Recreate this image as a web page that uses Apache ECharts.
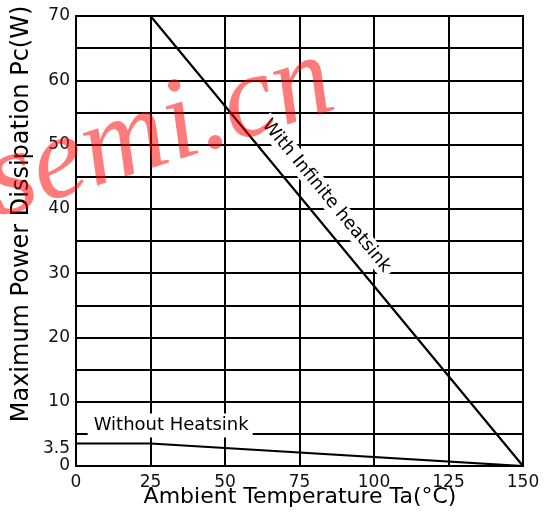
<!DOCTYPE html>
<html>
<head>
<meta charset="utf-8">
<script src="https://cdn.jsdelivr.net/npm/echarts@6/dist/echarts.min.js"></script>
<style>html,body{margin:0;padding:0;background:#fff;}#c{width:547px;height:516px;}</style>
</head>
<body>
<div id="c"></div>
<script>
var temps = [0, 25, 150];
var withHeatsink = [70, 70, 0];
var withoutHeatsink = [3.5, 3.5, 0];
var xTicks = [0, 25, 50, 75, 100, 125, 150];
var yTicks = [0, 10, 20, 30, 40, 50, 60, 70];
var extraYTick = 3.5;

var FONT = 'DejaVu Sans';
function pairs(xs, ys) { return xs.map(function (x, i) { return [x, ys[i]]; }); }

var chart = echarts.init(document.getElementById('c'));
chart.setOption({
  animation: false,
  backgroundColor: '#fff',
  grid: { left: 76, right: 24, top: 16, bottom: 50, show: true, borderColor: '#000', borderWidth: 2 },
  xAxis: {
    type: 'value', min: 0, max: 150, interval: 25,
    axisLine: { lineStyle: { color: '#000', width: 2 } },
    axisTick: { show: false },
    splitLine: { lineStyle: { color: '#000', width: 2 } },
    axisLabel: { fontFamily: FONT, fontSize: 17, color: '#111', margin: 8,
      formatter: function (v) { return xTicks.indexOf(v) >= 0 ? String(v) : ''; } }
  },
  yAxis: [{
    type: 'value', min: 0, max: 70, interval: 5,
    axisLine: { show: true, lineStyle: { color: '#000', width: 2 } },
    axisTick: { show: false },
    splitLine: { lineStyle: { color: '#000', width: 2 } },
    axisLabel: { fontFamily: FONT, fontSize: 17, color: '#111', margin: 6,
      formatter: function (v) { return yTicks.indexOf(v) >= 0 ? String(v) : ''; } }
  }, {
    type: 'value', min: 0, max: 70, interval: 3.5, position: 'left',
    axisLine: { show: false }, axisTick: { show: false }, splitLine: { show: false },
    axisLabel: { fontFamily: FONT, fontSize: 17, color: '#111', margin: 6, verticalAlign: 'top', lineHeight: 11,
      formatter: function (v) { return Math.abs(v - extraYTick) < 1e-9 ? String(extraYTick) : ''; } }
  }],
  series: [{
    type: 'line', name: 'With Infinite heatsink', data: pairs(temps, withHeatsink),
    symbol: 'none', lineStyle: { color: '#000', width: 2.2 }, z: 5,
    markPoint: {
      symbolSize: 0, silent: true,
      data: [{ coord: [84, 42] }],
      label: { show: true, position: 'inside', formatter: 'With Infinite heatsink', rotate: -50.5,
        fontFamily: FONT, fontSize: 18, color: '#000', backgroundColor: '#fff', padding: [1, 4] }
    }
  }, {
    type: 'line', name: 'Without Heatsink', data: pairs(temps, withoutHeatsink),
    symbol: 'none', lineStyle: { color: '#000', width: 2.2 }, z: 5,
    markPoint: {
      symbolSize: 0, silent: true,
      data: [{ coord: [31.6, 6.3] }],
      label: { show: true, position: 'inside', formatter: 'Without Heatsink',
        fontFamily: FONT, fontSize: 18, color: '#000', backgroundColor: '#fff', padding: [2, 4, 4, 6] }
    }
  }],
  graphic: [{
    type: 'text', x: 300, y: 497, z: 10,
    style: { text: 'Ambient Temperature Ta(°C)', font: '22px "DejaVu Sans"', fill: '#000', textAlign: 'center', textVerticalAlign: 'middle' }
  }, {
    type: 'text', x: 22, y: 214, rotation: Math.PI / 2, z: 10,
    style: { text: 'Maximum Power Dissipation Pc(W)', font: '24px "DejaVu Sans"', fill: '#000', textAlign: 'center', textVerticalAlign: 'middle' }
  }, {
    type: 'text', x: 178, y: 189, rotation: 0.31, z: 100,
    style: { text: 'semi.cn', font: 'italic 118px "Liberation Serif"', fill: 'rgba(255,0,0,0.52)', textAlign: 'center', textVerticalAlign: 'bottom' }
  }]
});
</script>
</body>
</html>
